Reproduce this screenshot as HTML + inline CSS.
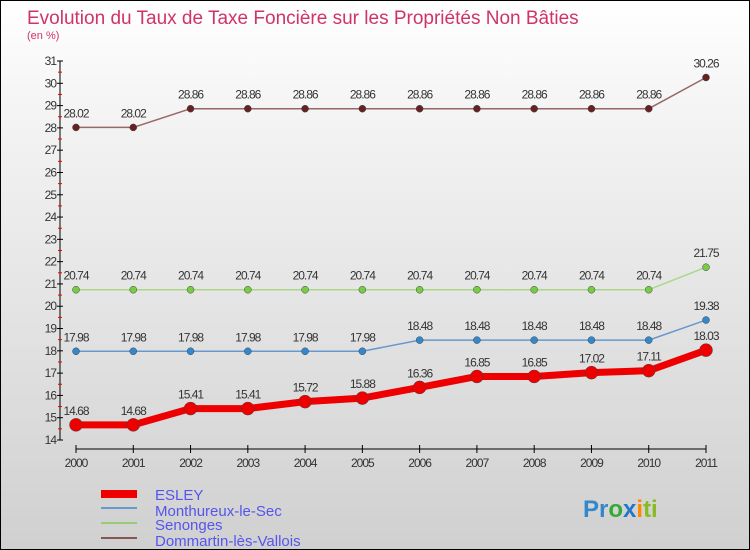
<!DOCTYPE html>
<html><head><meta charset="utf-8"><style>
body{margin:0;width:750px;height:550px;overflow:hidden;font-family:"Liberation Sans",sans-serif}
#wrap{position:relative;width:748px;height:548px;border:1px solid #000;background:linear-gradient(#ffffff,#f4f4f4 20%,#d0d0d0)}
</style></head><body>
<div id="wrap">
<svg id="svg" width="748" height="548" style="position:absolute;left:0;top:0">
<text x="26" y="23" font-size="19" fill="#d0336a">Evolution du Taux de Taxe Foncière sur les Propriétés Non Bâties</text>
<text x="26" y="38" font-size="11" fill="#d0336a">(en %)</text>
<g id="axes"></g><g id="series"></g>
<g>
<rect x="100" y="489" width="36" height="8" fill="#ee0000"/>
<text x="154" y="499" font-size="15" fill="#5555ee">ESLEY</text>
<line x1="100" y1="507" x2="136" y2="507" stroke="#6699cc" stroke-width="2"/>
<text x="154" y="515" font-size="15" fill="#5555ee">Monthureux-le-Sec</text>
<line x1="100" y1="522" x2="136" y2="522" stroke="#99cc77" stroke-width="2"/>
<text x="154" y="529" font-size="15" fill="#5555ee">Senonges</text>
<line x1="100" y1="537" x2="136" y2="537" stroke="#885555" stroke-width="2"/>
<text x="154" y="545" font-size="15" fill="#5555ee">Dommartin-lès-Vallois</text>
</g>
<text x="582" y="516" font-size="24" font-weight="bold"><tspan fill="#3388cc">Pr</tspan><tspan fill="#33aa33">o</tspan><tspan fill="#2277cc">x</tspan><tspan fill="#ff8800">i</tspan><tspan fill="#88bb22">ti</tspan></text>
</svg></div>
<script>
const years=[2000,2001,2002,2003,2004,2005,2006,2007,2008,2009,2010,2011];
const esley=[14.68,14.68,15.41,15.41,15.72,15.88,16.36,16.85,16.85,17.02,17.11,18.03];
const monthureux=[17.98,17.98,17.98,17.98,17.98,17.98,18.48,18.48,18.48,18.48,18.48,19.38];
const senonges=[20.74,20.74,20.74,20.74,20.74,20.74,20.74,20.74,20.74,20.74,20.74,21.75];
const dommartin=[28.02,28.02,28.86,28.86,28.86,28.86,28.86,28.86,28.86,28.86,28.86,30.26];
const yTicks=[14,15,16,17,18,19,20,21,22,23,24,25,26,27,28,29,30,31];
const NS="http://www.w3.org/2000/svg";
function X(i){return 75+i*(630/11);}
function Y(v){return 439+(14-v)*(379/17);}
function mk(t,a,p){const e=document.createElementNS(NS,t);for(const k in a)e.setAttribute(k,a[k]);p.appendChild(e);return e;}
const ax=document.getElementById('axes');
let l=mk('line',{x1:59,y1:Y(31),x2:59,y2:Y(14),stroke:'#000'},ax);


yTicks.forEach(v=>{
 mk('line',{x1:56,y1:Y(v),x2:62,y2:Y(v),stroke:'#000'},ax);
 if(v<31)mk('line',{x1:57,y1:Y(v+0.5),x2:61,y2:Y(v+0.5),stroke:'#e00'},ax);
 const t=mk('text',{x:55,y:Y(v)+4,'text-anchor':'end','font-size':12,fill:'#333','letter-spacing':'-1'},ax);
 t.textContent=v;
 
 
});
const xa=mk('line',{x1:X(0),y1:448,x2:X(11),y2:448,stroke:'#000'},ax);


years.forEach((y,i)=>{
 mk('line',{x1:X(i),y1:444,x2:X(i),y2:452,stroke:'#000'},ax);
 const t=mk('text',{x:X(i),y:466,'text-anchor':'middle','font-size':12,fill:'#333','letter-spacing':'-1'},ax);
 t.textContent=y;
 
 
});
const sg=document.getElementById('series');
function series(vals,name,col,w,r,dot){
 const g=mk('g',{},sg);
 
 
 const p=mk('polyline',{points:vals.map((v,i)=>X(i)+','+Y(v)).join(' '),fill:'none',stroke:col,'stroke-width':w,'stroke-linejoin':'round'},g);
 
 
 vals.forEach((v,i)=>{
  const c=mk('circle',{cx:X(i),cy:Y(v),r:r,fill:dot,stroke:'#444','stroke-width':0.5},g);
  
  
  const t=mk('text',{x:X(i),y:Y(v)-10,'text-anchor':'middle','font-size':12,fill:'#333','letter-spacing':'-1'},g);
  t.textContent=v.toFixed(2);
  
  
 });
}
series(dommartin,'dommartin','#996666',1.5,3.5,'#662222');
series(senonges,'senonges','#aad888',1.5,3.5,'#77cc44');
series(monthureux,'monthureux','#6699cc',1.5,3.5,'#3388cc');
series(esley,'esley','#ee0000',7,6.5,'#ee0000');
</script>
</body></html>
